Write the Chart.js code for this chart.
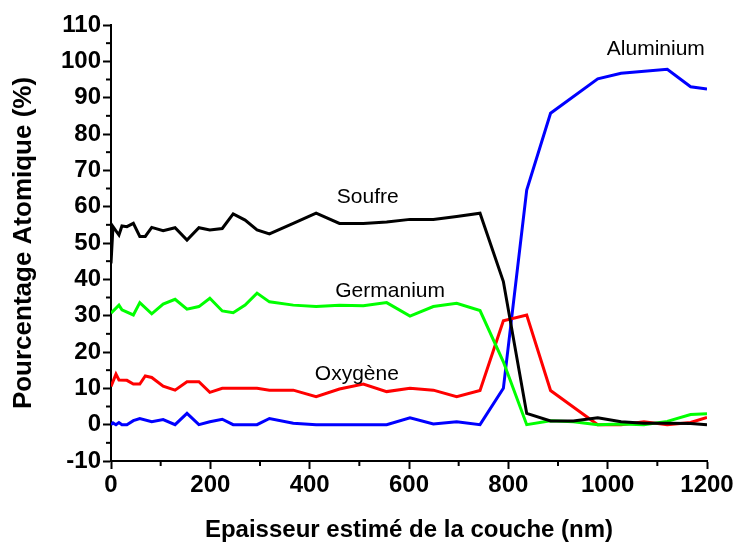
<!DOCTYPE html>
<html>
<head>
<meta charset="utf-8">
<script src="https://cdn.jsdelivr.net/npm/chart.js@4/dist/chart.umd.min.js"></script>
<style>
  html, body { margin: 0; padding: 0; background: #fff; }
  #wrap { width: 739px; height: 550px; }
</style>
</head>
<body>
<div id="wrap"><canvas id="profil"></canvas></div>
<script>
// épaisseur (nm) - abscisses communes
const depth = [0, 4, 10, 16, 22, 32, 45, 58, 69, 82, 105, 129, 153, 177, 199, 224, 246, 270, 294, 319,
               367, 413, 460, 508, 555, 602, 649, 696, 743, 790, 837, 885, 931, 980, 1027, 1073, 1120, 1167, 1200];

// pourcentages atomiques (null = pas de point à cette abscisse)
const soufre = [44.4, 54.5, null, 52.2, 54.7, 54.5, 55.4, 51.8, 51.8, 54.3, 53.4, 54.2, 50.8, 54.2, 53.6, 54.0, 58.0, 56.3, 53.6, 52.5,
                55.4, 58.2, 55.4, 55.4, 55.8, 56.5, 56.5, 57.3, 58.2, 39.4, 3.1, 1.0, 1.0, 1.9, 0.8, 0.4, 0.4, 0.3, 0];
const germanium = [30.7, null, null, 32.9, 31.6, null, 30.2, 33.6, null, 30.5, 33.2, 34.5, 31.8, 32.5, 34.8, 31.3, 30.8, 32.9, 36.2, 33.8,
                   32.9, 32.5, 32.9, 32.7, 33.6, 29.9, 32.5, 33.4, 31.4, 17.3, 0, 1.1, 0.8, 0, 0.2, 0, 0.9, 2.8, 3.0];
const oxygene = [10.5, null, 13.9, 12.3, null, 12.2, 11.2, 11.2, 13.4, 13.0, 10.6, 9.5, 11.8, 11.8, 8.9, 10.0, 10.0, null, 10.0, 9.5,
                 9.5, 7.7, 9.8, 11.2, 9.1, 10.0, 9.5, 7.7, 9.4, 28.6, 30.2, 9.4, null, 0, 0, 0.8, 0, 0.6, 2.0];
const aluminium = [0, 0.5, 0, 0.6, 0, 0, 1.1, 1.7, null, 0.8, 1.4, 0, 3.1, 0, 0.8, 1.5, 0, null, 0, 1.7,
                   0.4, 0, 0, 0, 0, 1.9, 0.2, 0.8, 0, 10.0, 64.6, 85.7, null, 95.2, 96.7, null, 97.8, 93.0, 92.4];

// étiquettes placées dans le graphe (coordonnées en unités des axes)
const labelNames = ['Soufre', 'Germanium', 'Oxygène', 'Aluminium'];
const labelX = [517, 562, 495, 1097];
const labelY = [62.7, 36.8, 14.0, 103.3];

const xTicks = [0, 200, 400, 600, 800, 1000, 1200];

const FONT = '"Liberation Sans", Arial, sans-serif';

function toPoints(values) {
    const pts = [];
    values.forEach((v, i) => {
        if (v !== null) pts.push({ x: depth[i], y: v });
    });
    return pts;
}

function serie(label, values, color) {
    return {
        label: label,
        data: toPoints(values),
        borderColor: color,
        backgroundColor: color,
        borderWidth: 3,
        pointRadius: 0,
        tension: 0,
        fill: false
    };
}

// petites graduations + noms des courbes
const extras = {
    id: 'extras',
    afterDraw(chart) {
        const ctx = chart.ctx;
        const xs = chart.scales.x;
        const ys = chart.scales.y;
        ctx.save();
        ctx.strokeStyle = '#000';
        ctx.lineWidth = 2;
        for (let v = 100; v < 1200; v += 200) {
            const px = xs.getPixelForValue(v);
            ctx.beginPath();
            ctx.moveTo(px, ys.bottom);
            ctx.lineTo(px, ys.bottom + 5);
            ctx.stroke();
        }
        for (let v = -5; v < 110; v += 10) {
            const py = ys.getPixelForValue(v);
            ctx.beginPath();
            ctx.moveTo(xs.left, py);
            ctx.lineTo(xs.left - 5, py);
            ctx.stroke();
        }
        ctx.fillStyle = '#000';
        ctx.font = '21px ' + FONT;
        ctx.textAlign = 'center';
        ctx.textBaseline = 'middle';
        labelNames.forEach((name, i) => {
            ctx.fillText(name, xs.getPixelForValue(labelX[i]), ys.getPixelForValue(labelY[i]));
        });
        ctx.restore();
    }
};

new Chart(document.getElementById('profil').getContext('2d'), {
    type: 'line',
    data: {
        datasets: [
            serie('Soufre', soufre, '#000000'),
            serie('Germanium', germanium, '#00ff00'),
            serie('Oxygène', oxygene, '#ff0000'),
            serie('Aluminium', aluminium, '#0000ff')
        ]
    },
    options: {
        responsive: true,
        maintainAspectRatio: false,
        animation: false,
        layout: { padding: { top: 25, right: 32, bottom: 0, left: 0 } },
        plugins: {
            legend: { display: false },
            tooltip: { enabled: false }
        },
        scales: {
            x: {
                type: 'linear',
                min: 0,
                max: 1200,
                afterBuildTicks: scale => { scale.ticks = xTicks.map(v => ({ value: v })); },
                afterFit: scale => { scale.height = 89; },
                border: { color: '#000', width: 2 },
                grid: { drawOnChartArea: false, drawTicks: true, tickLength: 8, tickColor: '#000', tickWidth: 2 },
                ticks: {
                    color: '#000', padding: 2, maxRotation: 0,
                    callback: v => String(v),
                    font: { family: FONT, size: 24, weight: 'bold' }
                },
                title: {
                    display: true,
                    text: 'Epaisseur estimé de la couche (nm)',
                    color: '#000',
                    padding: { top: 4, bottom: 5 },
                    font: { family: FONT, size: 24, weight: 'bold' }
                }
            },
            y: {
                min: -10,
                max: 110,
                afterFit: scale => { scale.width = 111; },
                ticks: {
                    stepSize: 10, color: '#000', padding: 2,
                    callback: v => String(v),
                    font: { family: FONT, size: 24, weight: 'bold' }
                },
                border: { color: '#000', width: 2 },
                grid: { drawOnChartArea: false, drawTicks: true, tickLength: 8, tickColor: '#000', tickWidth: 2 },
                title: {
                    display: true,
                    text: 'Pourcentage Atomique (%)',
                    color: '#000',
                    padding: { top: 8, bottom: 4 },
                    font: { family: FONT, size: 26, weight: 'bold' }
                }
            }
        }
    },
    plugins: [extras]
});
</script>
</body>
</html>
